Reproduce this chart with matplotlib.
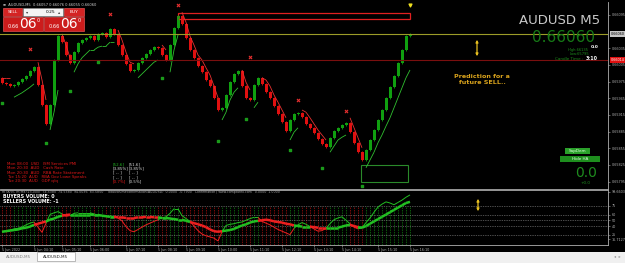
import numpy as np
import matplotlib.pyplot as plt
from matplotlib.collections import LineCollection
from matplotlib.patches import Rectangle, FancyArrowPatch

W, H = 625, 263

# ---- price data (one value per M5 bar) ----
closes = [
    0.65973, 0.65971, 0.65967, 0.65969, 0.65974, 0.65980, 0.65985, 0.65994, 0.66001, 0.65969,
    0.65933, 0.65899, 0.65933, 0.66014, 0.66057, 0.66046, 0.66023, 0.66009, 0.66028, 0.66045,
    0.66050, 0.66054, 0.66057, 0.66050, 0.66061, 0.66063, 0.66055, 0.66070, 0.66061, 0.66041,
    0.66023, 0.66007, 0.65994, 0.65996, 0.66009, 0.66018, 0.66025, 0.66032, 0.66037, 0.66036,
    0.66023, 0.66014, 0.66041, 0.66072, 0.66093, 0.66079, 0.66054, 0.66032, 0.66018, 0.66003,
    0.65992, 0.65978, 0.65967, 0.65946, 0.65924, 0.65928, 0.65951, 0.65974, 0.65989, 0.65994,
    0.65967, 0.65946, 0.65942, 0.65969, 0.65982, 0.65971, 0.65956, 0.65946, 0.65931, 0.65917,
    0.65902, 0.65886, 0.65906, 0.65917, 0.65919, 0.65911, 0.65899, 0.65892, 0.65883, 0.65872,
    0.65863, 0.65857, 0.65874, 0.65886, 0.65892, 0.65897, 0.65901, 0.65884, 0.65865, 0.65848,
    0.65834, 0.65852, 0.65870, 0.65888, 0.65906, 0.65924, 0.65946, 0.65965, 0.65985, 0.66009,
    0.66032, 0.66057, 0.66060,
]
first_open = 0.65982

trail = [
    0.65982, 0.65982, 0.65982, 0.65947, 0.65951, 0.65955, 0.65960, 0.65965, 0.65971, 0.66010,
    0.65978, 0.65942, 0.65888, 0.65920, 0.65960, 0.66061, 0.66041, 0.66018, 0.65992, 0.66007,
    0.66018, 0.66025, 0.66032, 0.66032, 0.66037, 0.66039, 0.66039, 0.66046, 0.66046, 0.66068,
    0.66050, 0.66028, 0.66010, 0.66007, 0.65982, 0.65989, 0.65996, 0.66003, 0.66010, 0.66014,
    0.66041, 0.66032, 0.65992, 0.66032, 0.66059, 0.66100, 0.66082, 0.66057, 0.66041, 0.66023,
    0.66014, 0.66000, 0.65987, 0.65967, 0.65946, 0.65906, 0.65920, 0.65942, 0.65956, 0.65964,
    0.65996, 0.65974, 0.65960, 0.65928, 0.65938, 0.65982, 0.65978, 0.65967, 0.65951, 0.65938,
    0.65924, 0.65910, 0.65870, 0.65884, 0.65892, 0.65924, 0.65920, 0.65910, 0.65899, 0.65888,
    0.65879, 0.65870, 0.65848, 0.65859, 0.65870, 0.65875, 0.65879, 0.65910, 0.65892, 0.65874,
    0.65856, 0.65820, 0.65834, 0.65848, 0.65865, 0.65879, 0.65895, 0.65910, 0.65928, 0.65946,
    0.65964, 0.65982, 0.65996,
]

frac_hi_idx = [7, 27, 44, 62, 74, 86]
frac_hi_val = [0.66034, 0.66097, 0.66113, 0.66019, 0.65942, 0.65922]
frac_lo_idx = [0, 11, 17, 24, 40, 54, 61, 72, 80, 90]
frac_lo_val = [0.65937, 0.65865, 0.65958, 0.66010, 0.65982, 0.65868, 0.65908, 0.65852, 0.65820, 0.65787]
signal_idx, signal_val = 102, 0.66113

bid = 0.66060
red_level = 0.66014
sell_zone = (44, 102, 0.66088, 0.66099)
buy_zone = (89.7, 101.5, 0.65795, 0.65825)

price_ticks = [0.66095, 0.66035, 0.66005, 0.65975, 0.65945, 0.65915,
               0.65885, 0.65855, 0.65825, 0.65795]

# ---- volume indicator (lower window) ----
vol_slow = [
    30, 31, 32, 33, 34, 36, 37, 39, 42, 44, 46, 48, 51, 53, 56, 58, 59, 60, 60, 60,
    60, 60, 60, 59, 59, 58, 57, 56, 56, 55, 55, 54, 54, 54, 55, 55, 56, 56, 55, 55,
    54, 54, 53, 52, 51, 51, 49, 47, 45, 43, 41, 38, 34, 31, 30, 31, 32, 33, 35, 38,
    41, 43, 46, 48, 49, 50, 51, 50, 48, 47, 46, 44, 43, 41, 40, 39, 39, 39, 38, 37,
    37, 37, 37, 37, 37, 39, 41, 42, 40, 38, 37, 40, 44, 48, 52, 56, 60, 64, 68, 72,
    76, 80, 82,
]
vol_fast = [
    30, 32, 33, 35, 36, 38, 42, 45, 47, 38, 29, 45, 60, 63, 65, 61, 57, 58, 62, 63,
    63, 63, 63, 61, 59, 58, 58, 58, 56, 54, 49, 39, 32, 30, 34, 38, 42, 45, 48, 51,
    54, 56, 62, 70, 70, 58, 53, 48, 40, 32, 26, 23, 21, 19, 14, 30, 41, 43, 44, 46,
    47, 50, 53, 55, 55, 48, 45, 42, 38, 34, 31, 28, 25, 36, 42, 46, 43, 39, 35, 31,
    32, 36, 44, 51, 54, 56, 50, 44, 38, 35, 37, 46, 54, 64, 73, 78, 82, 80, 77, 81,
    85, 90, 94,
]
vol_levels = [75, 60, 50, 40, 25]
vol_ticks = [99.6603, 75, 60, 50, 40, 25, 16.7127]
vol_tick_labels = ["99.6603", "75", "60", "50", "40", "25", "16.7127"]

time_idx = [0, 8, 15, 22, 31, 39, 46, 54, 62, 70, 78, 85, 94, 102]
time_labels = ["5 Jun 2022", "5 Jun 04:10", "5 Jun 05:10", "5 Jun 06:00", "5 Jun 07:10",
               "5 Jun 08:10", "5 Jun 09:10", "5 Jun 10:00", "5 Jun 11:10", "5 Jun 12:10",
               "5 Jun 13:10", "5 Jun 14:10", "5 Jun 15:10", "5 Jun 16:10"]

news = ["Mon 08:00  USD   ISM Services PMI",
        "Mon 20:30  AUD   Cash Rate",
        "Mon 20:30  AUD   RBA Rate Statement",
        "Tue 15:20  AUD   RBA Gov Lowe Speaks",
        "Tue 20:30  AUD   GDP q/q"]
news_fc = ["[52.6]", "[3.85%]", "[ -- ]", "[ -- ]", "[0.7%]"]
news_pr = ["[51.6]", "[3.85%]", "[ -- ]", "[ -- ]", "[0.5%]"]


def box(x0, y0, x1, y1):
    return [x0 / W, 1 - y1 / H, (x1 - x0) / W, (y1 - y0) / H]


def fx(x):
    return x / W


def fy(y):
    return 1 - y / H


AXC = "#b0b0b0"
TICK_FS = 2.4

fig = plt.figure(figsize=(W / 100, H / 100), dpi=100, facecolor="black")

# ---------------- main price window ----------------
ax = fig.add_axes(box(0, 2, 608, 189), facecolor="black")
n = len(closes)
x = np.arange(n)
c = np.array(closes)
o = np.array([first_open] + closes[:-1])
up = c >= o
ax.bar(x[up], (c - o)[up], bottom=o[up], width=0.75, color="#10a010", linewidth=0)
ax.bar(x[~up], (c - o)[~up], bottom=o[~up], width=0.75, color="#e01010", linewidth=0)
ax.vlines(x[up], np.minimum(o, c)[up] - 0.00002, np.maximum(o, c)[up] + 0.00002,
          color="#10a010", lw=0.6)
ax.vlines(x[~up], np.minimum(o, c)[~up] - 0.00002, np.maximum(o, c)[~up] + 0.00002,
          color="#e01010", lw=0.6)

# trailing line, red above price / green below
t = np.array(trail)
above = t > c
segs, cols = [], []
for i in range(n - 1):
    if above[i] == above[i + 1]:
        segs.append([(x[i], t[i]), (x[i + 1], t[i + 1])])
        cols.append("#e83030" if above[i] else "#30c030")
ax.add_collection(LineCollection(segs, colors=cols, linewidths=0.6))

ax.scatter(frac_hi_idx, frac_hi_val, marker="x", s=5, color="#e83030", lw=0.8, zorder=5)
ax.scatter(frac_lo_idx, frac_lo_val, marker="s", s=2.5, color="#1a9a1a", zorder=5)
ax.scatter([signal_idx], [signal_val], marker="v", s=4, color="#f0e020", zorder=5)

ax.axhline(bid, color="#9c9c28", lw=0.8)
ax.axhline(red_level, color="#7a0f0f", lw=0.8)
x0, x1, y0, y1 = sell_zone
ax.add_patch(Rectangle((x0, y0), x1 - x0, y1 - y0, fill=False, ec="#e02020", lw=0.9))
x0, x1, y0, y1 = buy_zone
ax.add_patch(Rectangle((x0, y0), x1 - x0, y1 - y0, fill=False, ec="#2a8a2a", lw=0.8))

ax.set_xlim(-0.5, 151.5)
ax.set_ylim(0.657818, 0.661184)
ax.set_xticks([])
ax.yaxis.tick_right()
ax.set_yticks(price_ticks)
ax.set_yticklabels([f"{p:.5f}" for p in price_ticks], fontsize=TICK_FS, color=AXC)
ax.tick_params(axis="y", length=1.5, width=0.4, color=AXC, pad=1)
for s in ["top", "left"]:
    ax.spines[s].set_visible(False)
for s in ["right", "bottom"]:
    ax.spines[s].set_color(AXC)
    ax.spines[s].set_linewidth(0.6)

# highlighted price labels
fig.text(fx(610.5), fy(34), f"{bid:.5f}", fontsize=TICK_FS, color="black", va="center",
         bbox=dict(boxstyle="square,pad=0.2", fc="#c8c8c8", ec="none"))
fig.text(fx(610.5), fy(60), f"{red_level:.5f}", fontsize=TICK_FS, color="white", va="center",
         bbox=dict(boxstyle="square,pad=0.2", fc="#e01010", ec="none"))

# ---------------- lower volume window ----------------
ax2 = fig.add_axes(box(0, 190, 608, 245), facecolor="black")
ax2.vlines(x[up], 7, 75, color="#0a5a0a", lw=0.7, linestyles=(0, (1.5, 1)))
ax2.vlines(x[~up], 7, 75, color="#7a0a0a", lw=0.7, linestyles=(0, (1.5, 1)))
for lv in vol_levels:
    ax2.axhline(lv, color="#9a9a9a", lw=0.5, ls=(0, (1, 1.5)))
vs = np.array(vol_slow, float)
vf = np.array(vol_fast, float)
seg_s, seg_f, col = [], [], []
for i in range(n - 1):
    seg_s.append([(x[i], vs[i]), (x[i + 1], vs[i + 1])])
    seg_f.append([(x[i], vf[i]), (x[i + 1], vf[i + 1])])
    col.append("#22c022" if vf[i + 1] >= vs[i + 1] else "#ee2020")
ax2.add_collection(LineCollection(seg_f, colors=col, linewidths=0.7))
ax2.add_collection(LineCollection(seg_s, colors=col, linewidths=1.8))
ax2.set_xlim(-0.5, 151.5)
ax2.set_ylim(7, 102.6)
ax2.yaxis.tick_right()
ax2.set_yticks(vol_ticks)
ax2.set_yticklabels(vol_tick_labels, fontsize=TICK_FS, color=AXC)
ax2.set_xticks(time_idx)
ax2.set_xticklabels(time_labels, fontsize=TICK_FS, color=AXC, ha="left")
ax2.tick_params(length=1.5, width=0.4, color=AXC, pad=1)
ax2.spines["left"].set_visible(False)
for s in ["right", "bottom", "top"]:
    ax2.spines[s].set_color(AXC)
    ax2.spines[s].set_linewidth(0.6)

fig.text(fx(2), fy(192), "m (A/V); m Ma (13,000)  74.5380  74.5380  94.0036  83.5850    "
         "Totalvolumeconfirmation(AUDUSD)  0.0000  -0.7900   Confirmation | www.comptanfx.com   0.0000  1.0000",
         fontsize=2.3, color="#a0a0a0", va="center")
fig.text(fx(3), fy(197), "BUYERS VOLUME: 0", fontsize=3.4, color="white",
         weight="bold", va="center")
fig.text(fx(3), fy(201.5), "SELLERS VOLUME: -1", fontsize=3.4, color="white",
         weight="bold", va="center")

# ---------------- header / trade panel ----------------
fig.text(fx(3), fy(4.5), "\u2261  AUDUSD,M5  0.66057 0.66076 0.66055 0.66060",
         fontsize=2.6, color="#d0d0d0", va="center")


def frect(x0, y0, x1, y1, **kw):
    fig.add_artist(Rectangle((fx(x0), fy(y1)), (x1 - x0) / W, (y1 - y0) / H,
                             transform=fig.transFigure, **kw))


frect(3, 8, 22, 16, fc="#d42424", ec="#ff6060", lw=0.4)
frect(23, 8, 63, 16, fc="#f4f4f4", ec="#909090", lw=0.4)
frect(64, 8, 84, 16, fc="#d42424", ec="#ff6060", lw=0.4)
frect(3, 17, 43, 31, fc="#cc1c1c", ec="#ff6060", lw=0.4)
frect(44, 17, 84, 31, fc="#cc1c1c", ec="#ff6060", lw=0.4)
fig.text(fx(12.5), fy(12), "SELL", fontsize=3.2, color="white", ha="center", va="center")
fig.text(fx(74), fy(12), "BUY", fontsize=3.2, color="white", ha="center", va="center")
fig.text(fx(27), fy(12), "\u25be", fontsize=3.2, color="#404040", ha="center", va="center")
fig.text(fx(59), fy(12), "\u25b4", fontsize=3.2, color="#404040", ha="center", va="center")
fig.text(fx(51), fy(12), "0.25", fontsize=3.2, color="black", ha="center", va="center")
for bx in (3, 44):
    fig.text(fx(bx + 5), fy(26), "0.66", fontsize=3.6, color="white", va="center")
    fig.text(fx(bx + 16), fy(24), "06", fontsize=10, color="white", va="center")
    fig.text(fx(bx + 34), fy(20), "0", fontsize=3.5, color="white", va="center")

# ---------------- right info block ----------------
fig.text(fx(600), fy(21), "AUDUSD M5", fontsize=9.5, color="#c8c8c8", ha="right", va="center")
fig.text(fx(595), fy(37.5), "0.66060", fontsize=11, color="#167a16", ha="right", va="center")
fig.text(fx(599), fy(46.5), "0.0", fontsize=3.2, color="white", weight="bold", ha="right", va="center")
fig.text(fx(589), fy(50), "High:66135", fontsize=2.6, color="#1c8c1c", ha="right", va="center")
fig.text(fx(589), fy(54), "Low:65795", fontsize=2.6, color="#1c8c1c", ha="right", va="center")
fig.text(fx(583), fy(58.5), "Candle Time :", fontsize=3.0, color="#1c8c1c", ha="right", va="center")
fig.text(fx(598), fy(58.5), "3:10", fontsize=3.4, color="white", weight="bold", ha="right", va="center")

fig.text(fx(482), fy(74), "Prediction for a\nfuture SELL..", fontsize=4.6, color="#d8a21c",
         weight="bold", ha="center", va="top", linespacing=1.3)

for xa, ya, yb in ((477, 37, 59), (478, 196, 214)):
    fig.add_artist(FancyArrowPatch((fx(xa), fy(ya)), (fx(xa), fy(yb)), transform=fig.transFigure,
                                   arrowstyle="<|-|>", mutation_scale=3.5, color="#e8c020", lw=0.9))

frect(565, 147.5, 590, 154, fc="#2aa02a", ec="none")
fig.text(fx(577.5), fy(150.8), "SupDem", fontsize=3.0, color="#e0ffe0", ha="center", va="center")
frect(560, 155.5, 600, 161.5, fc="#1e8e1e", ec="none")
fig.text(fx(580), fy(158.5), "Hide HA", fontsize=3.0, color="#e0ffe0", ha="center", va="center")
fig.text(fx(586), fy(173), "0.0", fontsize=10, color="#1e8c1e", ha="center", va="center")
fig.text(fx(586), fy(183), "+0.0", fontsize=3.0, color="#1e8c1e", ha="center", va="center")

# ---------------- news block ----------------
for k, line in enumerate(news):
    yy = 164 + 4.3 * k
    fig.text(fx(7), fy(yy), line, fontsize=2.9, color="#e01818", va="center")
    fig.text(fx(113), fy(yy), news_fc[k], fontsize=2.9,
             color="#20b020" if k == 0 else ("#e01818" if k == 4 else "#d8d8d8"), va="center")
    fig.text(fx(129), fy(yy), news_pr[k], fontsize=2.9, color="#d8d8d8", va="center")

# ---------------- tab bar ----------------
frect(0, 251.5, 625, 263, fc="#f0f0f0", ec="none")
frect(37, 252, 75, 261, fc="white", ec="#a0a0a0", lw=0.5)
fig.text(fx(19), fy(256.5), "AUDUSD,M5", fontsize=3.0, color="#808080", ha="center", va="center")
fig.text(fx(56), fy(256.5), "AUDUSD,M5", fontsize=3.0, color="#202020", ha="center", va="center")
fig.text(fx(617), fy(256.5), "\u25c2  \u25b8", fontsize=3.0, color="#909090", ha="center", va="center")

fig.savefig("out.png", dpi=100, facecolor="black")
